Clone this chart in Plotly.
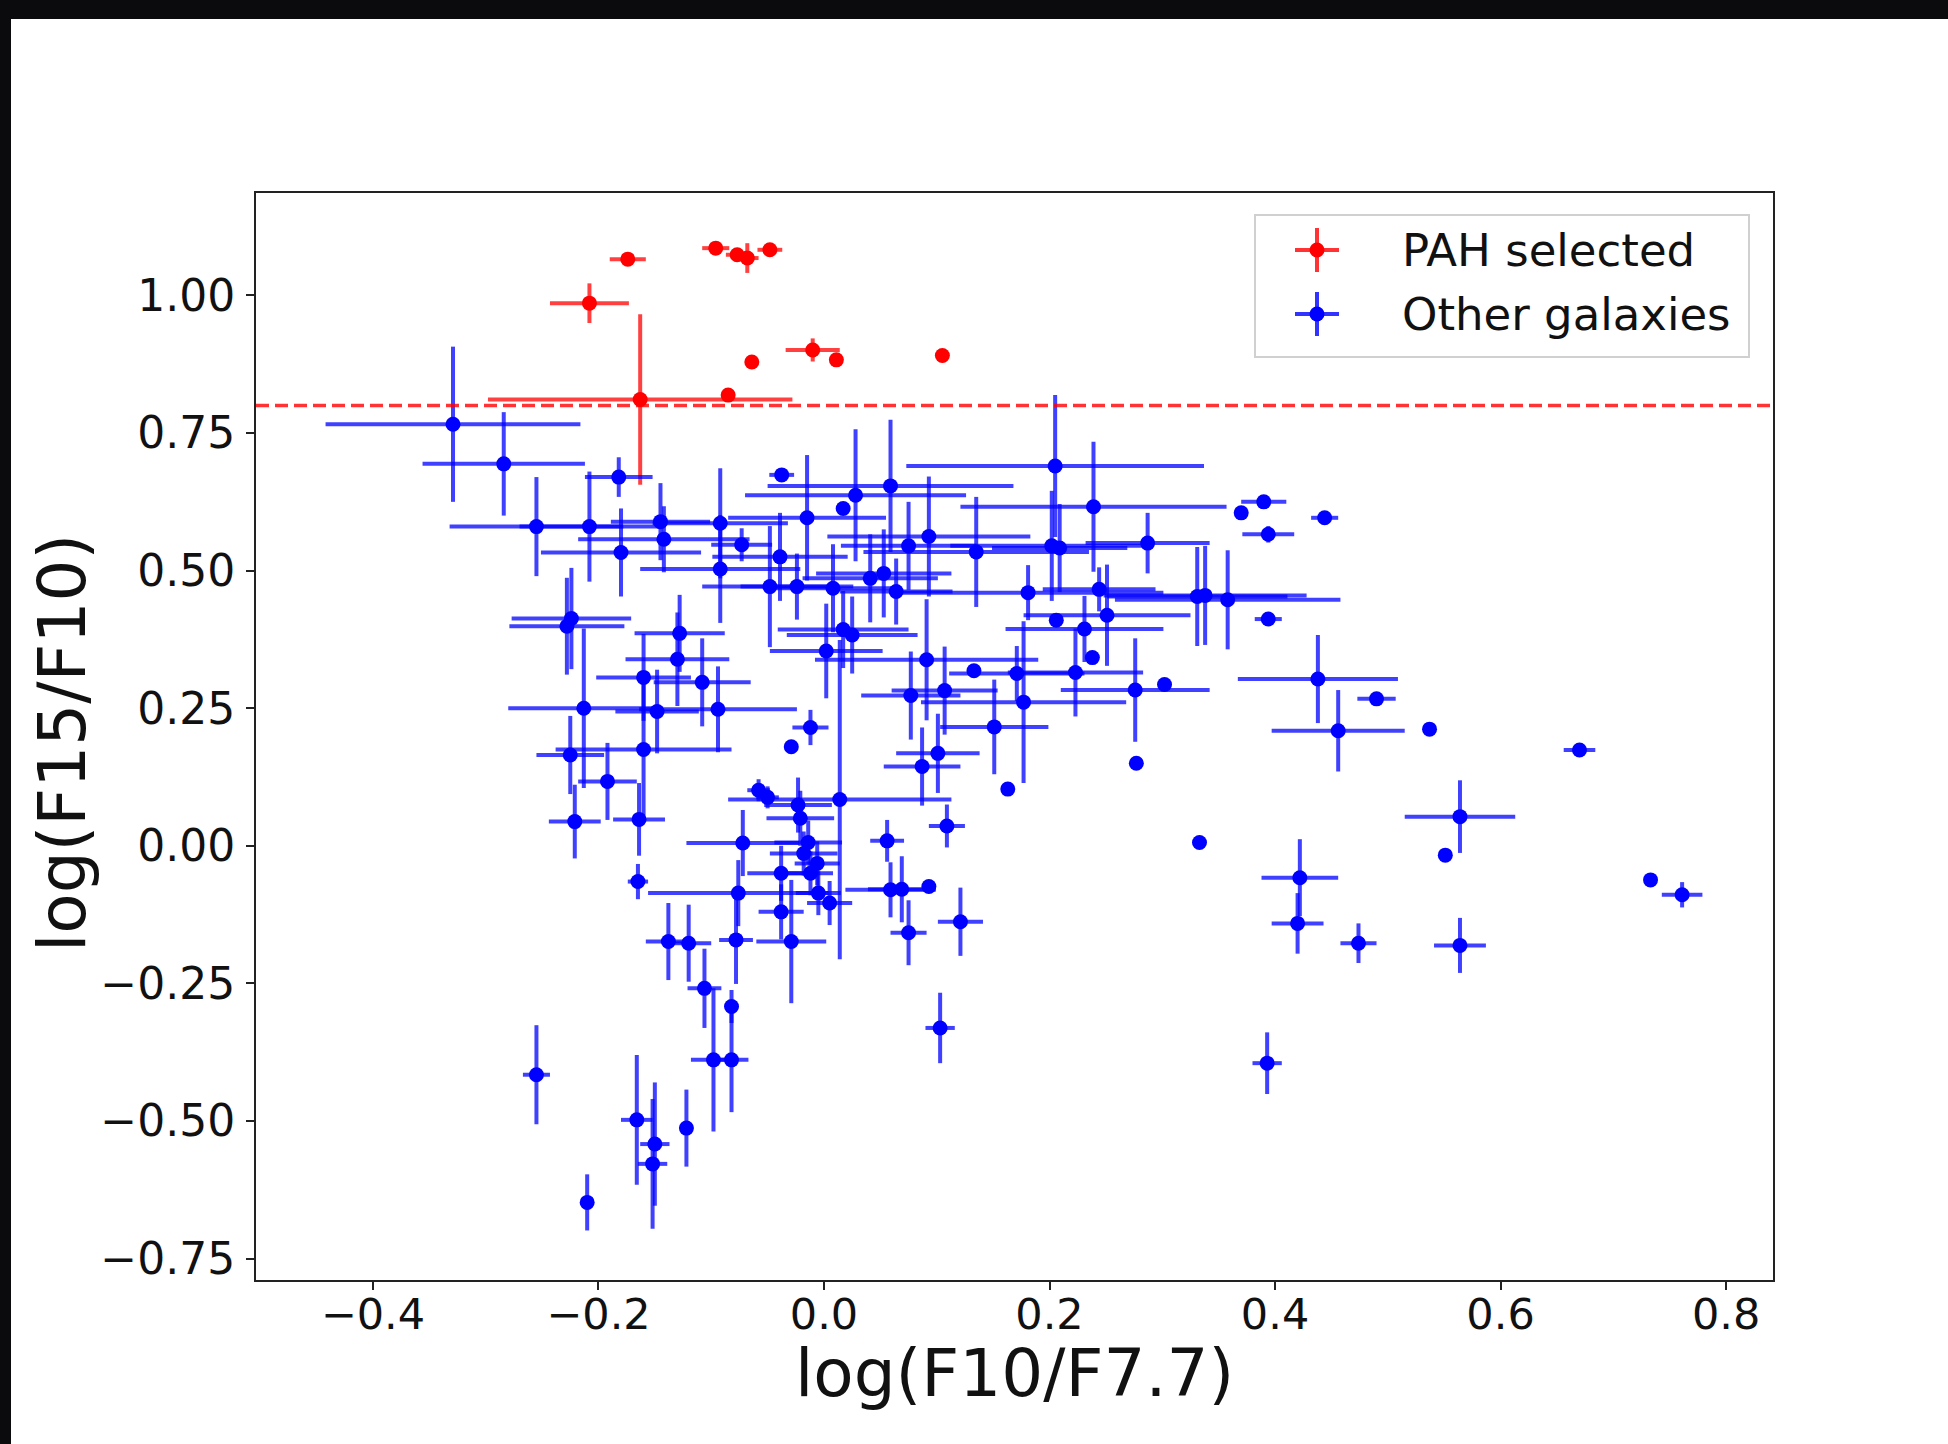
import plotly.graph_objects as go

# ---------------- data ----------------
pah_x    = [-0.208, -0.174, -0.096, -0.077, -0.068, -0.048, -0.064, -0.085, -0.163, -0.010, 0.011, 0.105]
pah_y    = [0.986, 1.066, 1.086, 1.074, 1.068, 1.083, 0.879, 0.819, 0.811, 0.901, 0.883, 0.891]
pah_xerr = [0.035, 0.016, 0.012, 0.010, 0.010, 0.011, 0.0, 0.0, 0.135, 0.024, 0.0, 0.0]
pah_yerr = [0.036, 0.005, 0.005, 0.005, 0.027, 0.005, 0.0, 0.0, 0.155, 0.021, 0.0, 0.0]

gal_x = [-0.329, -0.284, -0.255, -0.182, -0.208, -0.180, -0.145, -0.142, -0.092, -0.073,
         -0.092, -0.0375, 0.028, 0.059, 0.017, -0.015, 0.205, 0.239, 0.390, 0.370,
         0.444, 0.394, 0.287, 0.093, 0.075, 0.135, 0.202, 0.209, -0.039, -0.048,
         -0.024, 0.008, 0.041, 0.053, 0.064, 0.181, 0.244, 0.251, 0.206, 0.231,
         0.238, 0.331, 0.338, 0.358, 0.394, 0.302, 0.276, 0.223, 0.171, 0.133,
         0.177, 0.151, 0.107, 0.077, 0.091, 0.002, 0.017, 0.025, -0.012, -0.029,
         0.101, 0.087, 0.163, 0.277, 0.333, 0.014, -0.058, -0.050, -0.023, -0.021,
         -0.014, -0.018, -0.006, -0.012, -0.038, -0.005, 0.005, -0.038, 0.056, 0.109,
         0.059, 0.069, 0.093, -0.224, -0.228, -0.213, -0.128, -0.130, -0.160, -0.108,
         -0.148, -0.094, -0.160, -0.225, -0.192, -0.221, -0.164, -0.165, -0.072, -0.076,
         -0.255, -0.210, -0.166, -0.150, -0.152, -0.122, -0.098, -0.082, -0.082, -0.106,
         -0.138, -0.120, -0.078, -0.029, 0.075, 0.121, 0.103, 0.393, 0.420, 0.474,
         0.564, 0.438, 0.490, 0.456, 0.537, 0.670, 0.564, 0.551, 0.733, 0.761,
         0.422]
gal_y = [0.766, 0.694, 0.580, 0.670, 0.580, 0.533, 0.589, 0.557, 0.586, 0.547,
         0.503, 0.674, 0.637, 0.654, 0.613, 0.596, 0.690, 0.616, 0.625, 0.605,
         0.596, 0.566, 0.550, 0.562, 0.545, 0.534, 0.545, 0.541, 0.525, 0.471,
         0.471, 0.468, 0.486, 0.495, 0.462, 0.460, 0.466, 0.419, 0.410, 0.394,
         0.342, 0.453, 0.455, 0.447, 0.412, 0.293, 0.283, 0.315, 0.313, 0.318,
         0.261, 0.216, 0.282, 0.273, 0.338, 0.354, 0.393, 0.383, 0.215, 0.180,
         0.168, 0.144, 0.103, 0.150, 0.006, 0.084, 0.101, 0.088, 0.074, 0.050,
         0.006, -0.014, -0.032, -0.050, -0.050, -0.086, -0.104, -0.120, 0.009, 0.036,
         -0.080, -0.079, -0.074, 0.413, 0.399, 0.250, 0.386, 0.339, 0.306, 0.297,
         0.244, 0.248, 0.175, 0.165, 0.117, 0.044, 0.048, -0.065, 0.005, -0.086,
         -0.416, -0.648, -0.498, -0.542, -0.578, -0.513, -0.389, -0.389, -0.292, -0.259,
         -0.174, -0.177, -0.171, -0.174, -0.158, -0.138, -0.331, -0.395, -0.141, -0.177,
         -0.181, 0.303, 0.267, 0.209, 0.212, 0.174, 0.053, -0.017, -0.062, -0.089,
         -0.058]
gal_xerr = [0.113, 0.072, 0.077, 0.030, 0.062, 0.071, 0.044, 0.076, 0.060, 0.027,
            0.071, 0.011, 0.098, 0.109, 0.0, 0.070, 0.132, 0.118, 0.020, 0.0,
            0.012, 0.023, 0.055, 0.090, 0.060, 0.100, 0.090, 0.060, 0.060, 0.060,
            0.050, 0.060, 0.060, 0.060, 0.050, 0.120, 0.050, 0.074, 0.0, 0.070,
            0.0, 0.080, 0.090, 0.100, 0.012, 0.0, 0.066, 0.060, 0.060, 0.0,
            0.091, 0.048, 0.047, 0.044, 0.099, 0.050, 0.058, 0.058, 0.016, 0.005,
            0.037, 0.034, 0.0, 0.006, 0.0, 0.099, 0.010, 0.010, 0.030, 0.030,
            0.030, 0.030, 0.020, 0.020, 0.030, 0.020, 0.020, 0.020, 0.015, 0.016,
            0.040, 0.030, 0.0, 0.053, 0.051, 0.067, 0.040, 0.046, 0.042, 0.043,
            0.037, 0.070, 0.078, 0.030, 0.026, 0.023, 0.023, 0.009, 0.050, 0.080,
            0.012, 0.0, 0.014, 0.013, 0.013, 0.005, 0.020, 0.015, 0.005, 0.015,
            0.020, 0.020, 0.015, 0.031, 0.016, 0.020, 0.013, 0.013, 0.023, 0.016,
            0.023, 0.071, 0.017, 0.059, 0.0, 0.014, 0.049, 0.0, 0.0, 0.018,
            0.034]
gal_yerr = [0.141, 0.094, 0.090, 0.036, 0.100, 0.080, 0.070, 0.060, 0.100, 0.030,
            0.098, 0.008, 0.120, 0.120, 0.0, 0.114, 0.129, 0.118, 0.008, 0.0,
            0.006, 0.015, 0.055, 0.109, 0.080, 0.100, 0.100, 0.080, 0.080, 0.110,
            0.060, 0.080, 0.080, 0.080, 0.060, 0.050, 0.040, 0.092, 0.0, 0.060,
            0.0, 0.090, 0.090, 0.090, 0.006, 0.0, 0.094, 0.080, 0.050, 0.0,
            0.147, 0.086, 0.080, 0.080, 0.110, 0.086, 0.070, 0.070, 0.032, 0.008,
            0.072, 0.071, 0.0, 0.008, 0.0, 0.290, 0.020, 0.020, 0.050, 0.050,
            0.040, 0.040, 0.040, 0.040, 0.050, 0.040, 0.040, 0.050, 0.038, 0.039,
            0.050, 0.060, 0.0, 0.092, 0.088, 0.145, 0.070, 0.085, 0.079, 0.080,
            0.076, 0.078, 0.120, 0.071, 0.070, 0.067, 0.066, 0.032, 0.060, 0.060,
            0.090, 0.051, 0.118, 0.112, 0.118, 0.070, 0.130, 0.095, 0.030, 0.072,
            0.070, 0.070, 0.080, 0.112, 0.059, 0.062, 0.064, 0.056, 0.055, 0.036,
            0.050, 0.080, 0.010, 0.074, 0.0, 0.008, 0.066, 0.0, 0.0, 0.023,
            0.070]

x_ticks = [-0.4, -0.2, 0.0, 0.2, 0.4, 0.6, 0.8]
y_ticks = [-0.75, -0.50, -0.25, 0.00, 0.25, 0.50, 0.75, 1.00]
threshold = 0.8
legend_labels = ["PAH selected", "Other galaxies"]
x_title = "log(F10/F7.7)"
y_title = "log(F15/F10)"

# ---------------- figure ----------------
W, H = 1948, 1444
L, R, T, B = 256, 1773, 193, 1280
pw, ph = R - L, B - T

def px(X):
    return (X - L) / pw

def py(Y):
    return (B - Y) / ph

FONT = "DejaVu Sans"
fig = go.Figure()

def add_series(x, y, ex, ey, col, bar_col):
    fig.add_trace(go.Scatter(
        x=x, y=y, mode="markers",
        marker=dict(color=col, size=15, line=dict(width=0)),
        error_x=dict(type="data", array=ex, visible=True, color=bar_col, thickness=4, width=0),
        error_y=dict(type="data", array=ey, visible=True, color=bar_col, thickness=4, width=0),
        showlegend=False, hoverinfo="x+y",
    ))

add_series(pah_x, pah_y, pah_xerr, pah_yerr, "#ff0000", "rgba(255,0,0,0.75)")
add_series(gal_x, gal_y, gal_xerr, gal_yerr, "#0000ff", "rgba(0,0,255,0.75)")

shapes = []
# threshold line
shapes.append(dict(type="line", xref="paper", yref="y", x0=0, x1=1, y0=threshold, y1=threshold,
                   line=dict(color="rgba(255,0,0,0.8)", width=3.5, dash="13px,6px"), layer="above"))

# dark surround of the slide screenshot
x_left = px(0); x_right = px(W)
y_top = py(0); y_bot = py(H)
shapes.append(dict(type="rect", xref="paper", yref="paper", x0=x_left, x1=x_right,
                   y0=py(19), y1=y_top, fillcolor="#0b0b0e", line=dict(width=0), layer="below"))
shapes.append(dict(type="rect", xref="paper", yref="paper", x0=x_left, x1=px(11),
                   y0=y_bot, y1=y_top, fillcolor="#0b0b0e", line=dict(width=0), layer="below"))

# legend box
shapes.append(dict(type="rect", xref="paper", yref="paper", x0=px(1255), x1=px(1749),
                   y0=py(357), y1=py(215), fillcolor="rgba(255,255,255,0.85)",
                   line=dict(color="#d0d0d0", width=2), layer="above"))
legend_rows = [(250, "#ff0000", "rgba(255,0,0,0.8)"), (314, "#0000ff", "rgba(0,0,255,0.8)")]
annotations = []
for (yc, col, bcol), lab in zip(legend_rows, legend_labels):
    xa, ya = px(1317), py(yc)
    shapes.append(dict(type="line", xref="paper", yref="paper", xsizemode="pixel", ysizemode="pixel",
                       xanchor=xa, yanchor=ya, x0=-22, x1=22, y0=0, y1=0,
                       line=dict(color=bcol, width=4), layer="above"))
    shapes.append(dict(type="line", xref="paper", yref="paper", xsizemode="pixel", ysizemode="pixel",
                       xanchor=xa, yanchor=ya, x0=0, x1=0, y0=-22, y1=22,
                       line=dict(color=bcol, width=4), layer="above"))
    shapes.append(dict(type="circle", xref="paper", yref="paper", xsizemode="pixel", ysizemode="pixel",
                       xanchor=xa, yanchor=ya, x0=-7.5, x1=7.5, y0=-7.5, y1=7.5,
                       fillcolor=col, line=dict(width=0), layer="above"))
    annotations.append(dict(xref="paper", yref="paper", x=px(1400), y=ya, xanchor="left", yanchor="middle",
                            text=lab, showarrow=False, font=dict(family=FONT, size=45, color="#111111")))

# axis titles
annotations.append(dict(xref="paper", yref="paper", x=px(1014), y=py(1373), xanchor="center", yanchor="middle",
                        text=x_title, showarrow=False, font=dict(family=FONT, size=66, color="#111111")))
annotations.append(dict(xref="paper", yref="paper", x=px(62), y=py(743), xanchor="center", yanchor="middle",
                        text=y_title, textangle=-90, showarrow=False,
                        font=dict(family=FONT, size=66, color="#111111")))

axis_common = dict(showgrid=False, zeroline=False, showline=True, mirror=True, linecolor="#222222",
                   linewidth=2, ticks="outside", ticklen=8, tickwidth=1.5, tickcolor="#222222")

fig.update_layout(
    width=W, height=H,
    margin=dict(l=L, r=W - R, t=T, b=H - B, pad=0),
    paper_bgcolor="white", plot_bgcolor="white",
    shapes=shapes, annotations=annotations, showlegend=False,
    xaxis=dict(range=[-0.5037, 0.8416], tickvals=x_ticks, tickformat=".1f", ticklabelstandoff=-13,
               tickfont=dict(family=FONT, size=43, color="#111111"), **axis_common),
    yaxis=dict(range=[-0.789, 1.1862], tickvals=y_ticks, tickformat=".2f", ticklabelstandoff=2,
               tickfont=dict(family=FONT, size=44, color="#111111"), **axis_common),
)

fig.write_html(
    "out.html",
    config={"displayModeBar": False},
    post_script="document.body.style.margin='0px';document.body.style.overflow='hidden';",
)
